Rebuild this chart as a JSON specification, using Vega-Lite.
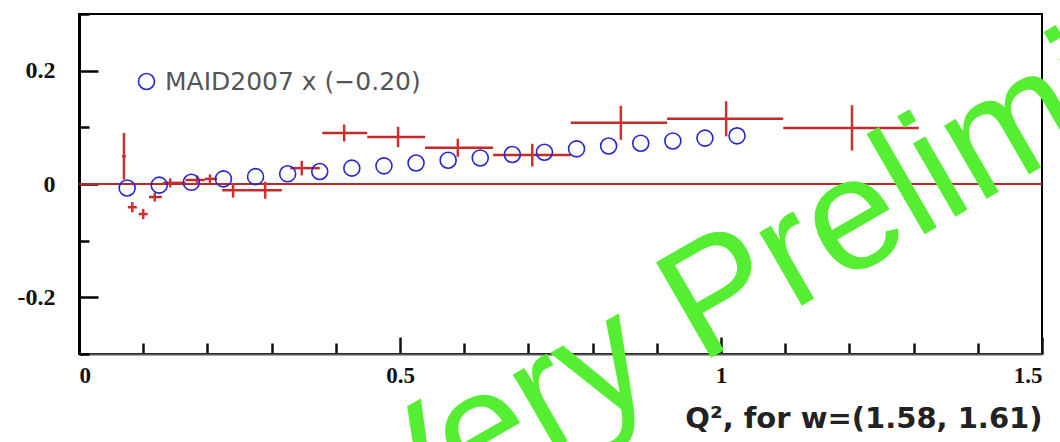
{
  "$schema": "https://vega.github.io/schema/vega-lite/v6.json",
  "autosize": {"type": "none"},
  "width": 963,
  "height": 340,
  "padding": {"left": 79, "top": 14, "right": 18, "bottom": 88},
  "background": "white",
  "config": {"view": {"stroke": "#000", "strokeWidth": 2}},
  "datasets": {
    "zero": [{"y": 0}],
    "maid": [
      {"q": 0.075, "y": -0.007}, {"q": 0.125, "y": -0.002}, {"q": 0.175, "y": 0.003}, {"q": 0.225, "y": 0.009},
      {"q": 0.275, "y": 0.013}, {"q": 0.325, "y": 0.018}, {"q": 0.375, "y": 0.022}, {"q": 0.425, "y": 0.028},
      {"q": 0.475, "y": 0.032}, {"q": 0.525, "y": 0.037}, {"q": 0.575, "y": 0.042}, {"q": 0.625, "y": 0.046},
      {"q": 0.675, "y": 0.052}, {"q": 0.725, "y": 0.056}, {"q": 0.775, "y": 0.062}, {"q": 0.825, "y": 0.067},
      {"q": 0.875, "y": 0.072}, {"q": 0.925, "y": 0.076}, {"q": 0.975, "y": 0.081}, {"q": 1.025, "y": 0.085}
    ],
    "meas": [
      {"q": 0.070, "y": 0.049, "qlo": 0.067, "qhi": 0.073, "ylo": 0.008, "yhi": 0.090},
      {"q": 0.083, "y": -0.041, "qlo": 0.076, "qhi": 0.090, "ylo": -0.050, "yhi": -0.032},
      {"q": 0.100, "y": -0.053, "qlo": 0.093, "qhi": 0.107, "ylo": -0.062, "yhi": -0.044},
      {"q": 0.118, "y": -0.023, "qlo": 0.109, "qhi": 0.129, "ylo": -0.031, "yhi": -0.015},
      {"q": 0.142, "y": 0.002, "qlo": 0.131, "qhi": 0.166, "ylo": -0.006, "yhi": 0.010},
      {"q": 0.184, "y": 0.007, "qlo": 0.166, "qhi": 0.196, "ylo": -0.001, "yhi": 0.015},
      {"q": 0.204, "y": 0.009, "qlo": 0.196, "qhi": 0.215, "ylo": 0.001, "yhi": 0.017},
      {"q": 0.240, "y": -0.011, "qlo": 0.223, "qhi": 0.263, "ylo": -0.024, "yhi": 0.002},
      {"q": 0.290, "y": -0.011, "qlo": 0.263, "qhi": 0.316, "ylo": -0.026, "yhi": 0.004},
      {"q": 0.347, "y": 0.028, "qlo": 0.329, "qhi": 0.375, "ylo": 0.015, "yhi": 0.041},
      {"q": 0.413, "y": 0.090, "qlo": 0.379, "qhi": 0.449, "ylo": 0.075, "yhi": 0.105},
      {"q": 0.497, "y": 0.083, "qlo": 0.449, "qhi": 0.539, "ylo": 0.065, "yhi": 0.101},
      {"q": 0.590, "y": 0.064, "qlo": 0.539, "qhi": 0.645, "ylo": 0.048, "yhi": 0.080},
      {"q": 0.706, "y": 0.051, "qlo": 0.645, "qhi": 0.766, "ylo": 0.031, "yhi": 0.071},
      {"q": 0.844, "y": 0.108, "qlo": 0.766, "qhi": 0.916, "ylo": 0.078, "yhi": 0.138},
      {"q": 1.008, "y": 0.115, "qlo": 0.916, "qhi": 1.097, "ylo": 0.084, "yhi": 0.146},
      {"q": 1.204, "y": 0.099, "qlo": 1.097, "qhi": 1.308, "ylo": 0.059, "yhi": 0.139}
    ],
    "stamp": [{"q": 0.475, "y": -0.64, "text": "Very Preliminary"}]
  },
  "layer": [
    {
      "data": {"name": "zero"},
      "mark": {"type": "rule", "color": "#b52a2a", "strokeWidth": 1.8},
      "encoding": {
        "y": {
          "field": "y", "type": "quantitative", "title": null,
          "scale": {"domain": [-0.3, 0.3], "nice": false, "zero": false},
          "axis": {
            "values": [-0.3, -0.25, -0.2, -0.15, -0.1, -0.05, 0, 0.05, 0.1, 0.15, 0.2, 0.25, 0.3],
            "grid": false,
            "domainColor": "#000", "domainWidth": 3,
            "tickColor": "#000", "tickWidth": 2.5,
            "tickSize": {"condition": {"test": "abs(datum.value*5 - round(datum.value*5)) < 1e-6", "value": -19}, "value": -10},
            "labelExpr": "abs(datum.value*5 - round(datum.value*5)) < 1e-6 ? replace(format(datum.value, '~g'), '−', '-') : ''",
            "labelFont": "Liberation Serif", "labelFontWeight": "bold", "labelFontSize": 24, "labelColor": "#111",
            "labelPadding": 43
          }
        }
      }
    },
    {
      "data": {"name": "meas"},
      "mark": {"type": "rule", "color": "#c42a2a", "strokeWidth": 2.5},
      "encoding": {
        "x": {
          "field": "qlo", "type": "quantitative", "title": "Q², for w=(1.58, 1.61)",
          "scale": {"domain": [0, 1.5], "nice": false, "zero": false},
          "axis": {
            "values": [0, 0.1, 0.2, 0.3, 0.4, 0.5, 0.6, 0.7, 0.8, 0.9, 1, 1.1, 1.2, 1.3, 1.4, 1.5],
            "grid": false,
            "domainColor": "#555", "domainWidth": 2,
            "tickColor": "#111", "tickWidth": 2.5,
            "tickSize": {"condition": {"test": "abs(datum.value*2 - round(datum.value*2)) < 1e-6", "value": -17}, "value": -11},
            "labelExpr": "abs(datum.value*2 - round(datum.value*2)) < 1e-6 ? format(datum.value, '~g') : ''",
            "labelFont": "Liberation Serif", "labelFontWeight": "bold", "labelFontSize": 23, "labelColor": "#111",
            "labelPadding": 27,
            "titleFont": "DejaVu Sans", "titleFontWeight": "bold", "titleFontSize": 29, "titleColor": "#222",
            "titleAnchor": "end", "titlePadding": 17
          }
        },
        "x2": {"field": "qhi"},
        "y": {"field": "y", "type": "quantitative", "title": null}
      }
    },
    {
      "data": {"name": "meas"},
      "mark": {"type": "rule", "color": "#d03030", "strokeWidth": 2.5},
      "encoding": {
        "x": {"field": "q", "type": "quantitative", "title": "Q², for w=(1.58, 1.61)"},
        "y": {"field": "ylo", "type": "quantitative", "title": null},
        "y2": {"field": "yhi"}
      }
    },
    {
      "data": {"name": "maid"},
      "mark": {"type": "point", "shape": "circle", "filled": false, "size": 256, "strokeWidth": 1.6, "opacity": 1},
      "encoding": {
        "x": {"field": "q", "type": "quantitative", "title": "Q², for w=(1.58, 1.61)"},
        "y": {"field": "y", "type": "quantitative", "title": null},
        "color": {
          "datum": "MAID2007 x (−0.20)", "type": "nominal",
          "scale": {"range": ["#2626d0"]},
          "legend": {
            "title": null, "orient": "top-left", "offset": 55, "padding": 0,
            "symbolType": "circle", "symbolSize": 256, "symbolStrokeWidth": 1.6, "symbolFillColor": "transparent", "symbolOpacity": 1,
            "labelFont": "DejaVu Sans", "labelFontSize": 25, "labelColor": "#555", "labelOffset": 6, "labelLimit": 0
          }
        }
      }
    },
    {
      "data": {"name": "stamp"},
      "mark": {"type": "text", "font": "Liberation Sans", "fontSize": 160, "angle": -30, "align": "left", "baseline": "alphabetic", "color": "#55ee33"},
      "encoding": {
        "x": {"field": "q", "type": "quantitative", "title": "Q², for w=(1.58, 1.61)"},
        "y": {"field": "y", "type": "quantitative", "title": null},
        "text": {"field": "text"}
      }
    }
  ]
}
